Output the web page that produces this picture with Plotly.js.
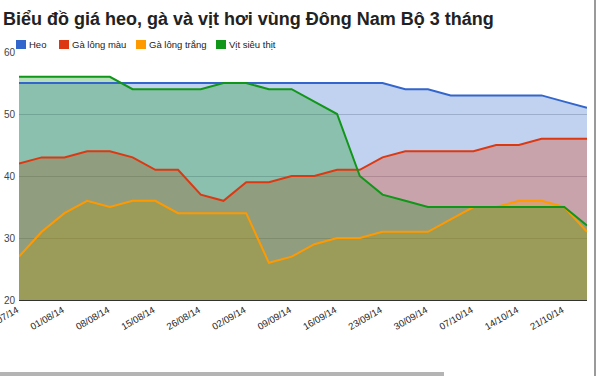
<!DOCTYPE html>
<html>
<head>
<meta charset="utf-8">
<script src="https://cdn.plot.ly/plotly-3.0.1.min.js"></script>
<style>
  html, body { margin: 0; padding: 0; background: #fff; }
  #chart { width: 600px; height: 376px; position: absolute; left: 0; top: 0; }
  #vline { position: absolute; left: 594px; top: 0; width: 2px; height: 376px; background: #9a9a9a; }
  #hbar { position: absolute; left: 0; top: 372px; width: 444px; height: 4px; background: #b4b4b4; }
</style>
</head>
<body>
<div id="chart"></div>
<div id="vline"></div>
<div id="hbar"></div>
<script>
const dates = ["28/07/14","30/07/14","01/08/14","05/08/14","08/08/14","12/08/14","15/08/14","22/08/14",
  "26/08/14","29/08/14","02/09/14","05/09/14","09/09/14","12/09/14","16/09/14","19/09/14",
  "23/09/14","26/09/14","30/09/14","03/10/14","07/10/14","10/10/14","14/10/14","17/10/14",
  "21/10/14","24/10/14"];
const heo        = [55,55,55,55,55,55,55,55,55,55,55,55,55,55,55,55,55,54,54,53,53,53,53,53,52,51];
const gaLongMau  = [42,43,43,44,44,43,41,41,37,36,39,39,40,40,41,41,43,44,44,44,44,45,45,46,46,46];
const gaLongTrang= [27,31,34,36,35,36,36,34,34,34,34,26,27,29,30,30,31,31,31,33,35,35,36,36,35,31];
const vitSieuThit= [56,56,56,56,56,54,54,54,54,55,55,54,54,52,50,40,37,36,35,35,35,35,35,35,35,32];
const seriesNames = ["Heo","Gà lông màu","Gà lông trắng","Vịt siêu thịt"];
const seriesData = [heo, gaLongMau, gaLongTrang, vitSieuThit];
const colors = ["#3366cc","#dc3912","#ff9900","#109618"];
const fills = ["rgba(51,102,204,0.3)","rgba(220,57,18,0.3)","rgba(255,153,0,0.3)","rgba(16,150,24,0.3)"];

const FONT = "Liberation Sans, Arial, sans-serif";
const M = {l: 19, r: 13, t: 52, b: 76};
const W = 600, H = 376;
const PW = W - M.l - M.r, PH = H - M.t - M.b;
const px2x = p => (p - M.l) / PW;
const py2y = p => (H - M.b - p) / PH;

const traces = [];
// areas first (like Google Charts), then the lines on top
seriesData.forEach((ys, i) => {
  traces.push({
    x: dates, y: ys, type: "scatter", mode: "none",
    fill: "tozeroy", fillcolor: fills[i],
    name: seriesNames[i], showlegend: false, hoverinfo: "skip"
  });
});
seriesData.forEach((ys, i) => {
  traces.push({
    x: dates, y: ys, type: "scatter", mode: "lines",
    line: {color: colors[i], width: 2},
    name: seriesNames[i], showlegend: false, hoverinfo: "x+y+name"
  });
});

// legend (Google-Charts style: small square + label right after it)
const legendSquareLeft = [16, 59, 136, 216];
const shapes = [], annotations = [];
seriesNames.forEach((nm, i) => {
  const x0 = legendSquareLeft[i];
  shapes.push({type: "rect", xref: "paper", yref: "paper",
    x0: px2x(x0), x1: px2x(x0 + 10), y0: py2y(49), y1: py2y(40),
    fillcolor: colors[i], line: {width: 0}});
  annotations.push({xref: "paper", yref: "paper", x: px2x(x0 + 11), y: py2y(44.5),
    xanchor: "left", yanchor: "middle", showarrow: false, text: nm,
    font: {family: FONT, size: 9.5, color: "#222"}});
});

const layout = {
  width: W, height: H,
  margin: M,
  paper_bgcolor: "#fff", plot_bgcolor: "#fff",
  font: {family: FONT, size: 11, color: "#222"},
  title: {text: "<b>Biểu đồ giá heo, gà và vịt hơi vùng Đông Nam Bộ 3 tháng</b>",
    font: {family: FONT, size: 18, color: "#222"},
    x: 0.005, xanchor: "left", xref: "container", y: 0.95, yanchor: "middle", yref: "container"},
  showlegend: false,
  shapes: shapes,
  annotations: annotations,
  xaxis: {type: "category", range: [0, dates.length - 1], tickmode: "linear", tick0: 0, dtick: 2,
    tickangle: -30, tickfont: {family: FONT, size: 9.5, color: "#222"}, showgrid: false, ticklabelshift: -2,
    showline: true, linecolor: "#333", linewidth: 1, ticks: "", fixedrange: true},
  yaxis: {range: [20, 60], dtick: 10, tickfont: {family: FONT, size: 10, color: "#444"}, ticklabelstandoff: 3,
    gridcolor: "#cccccc", gridwidth: 1, zeroline: false, ticks: "", fixedrange: true}
};
Plotly.newPlot("chart", traces, layout, {displayModeBar: false, staticPlot: true});
</script>
</body>
</html>
